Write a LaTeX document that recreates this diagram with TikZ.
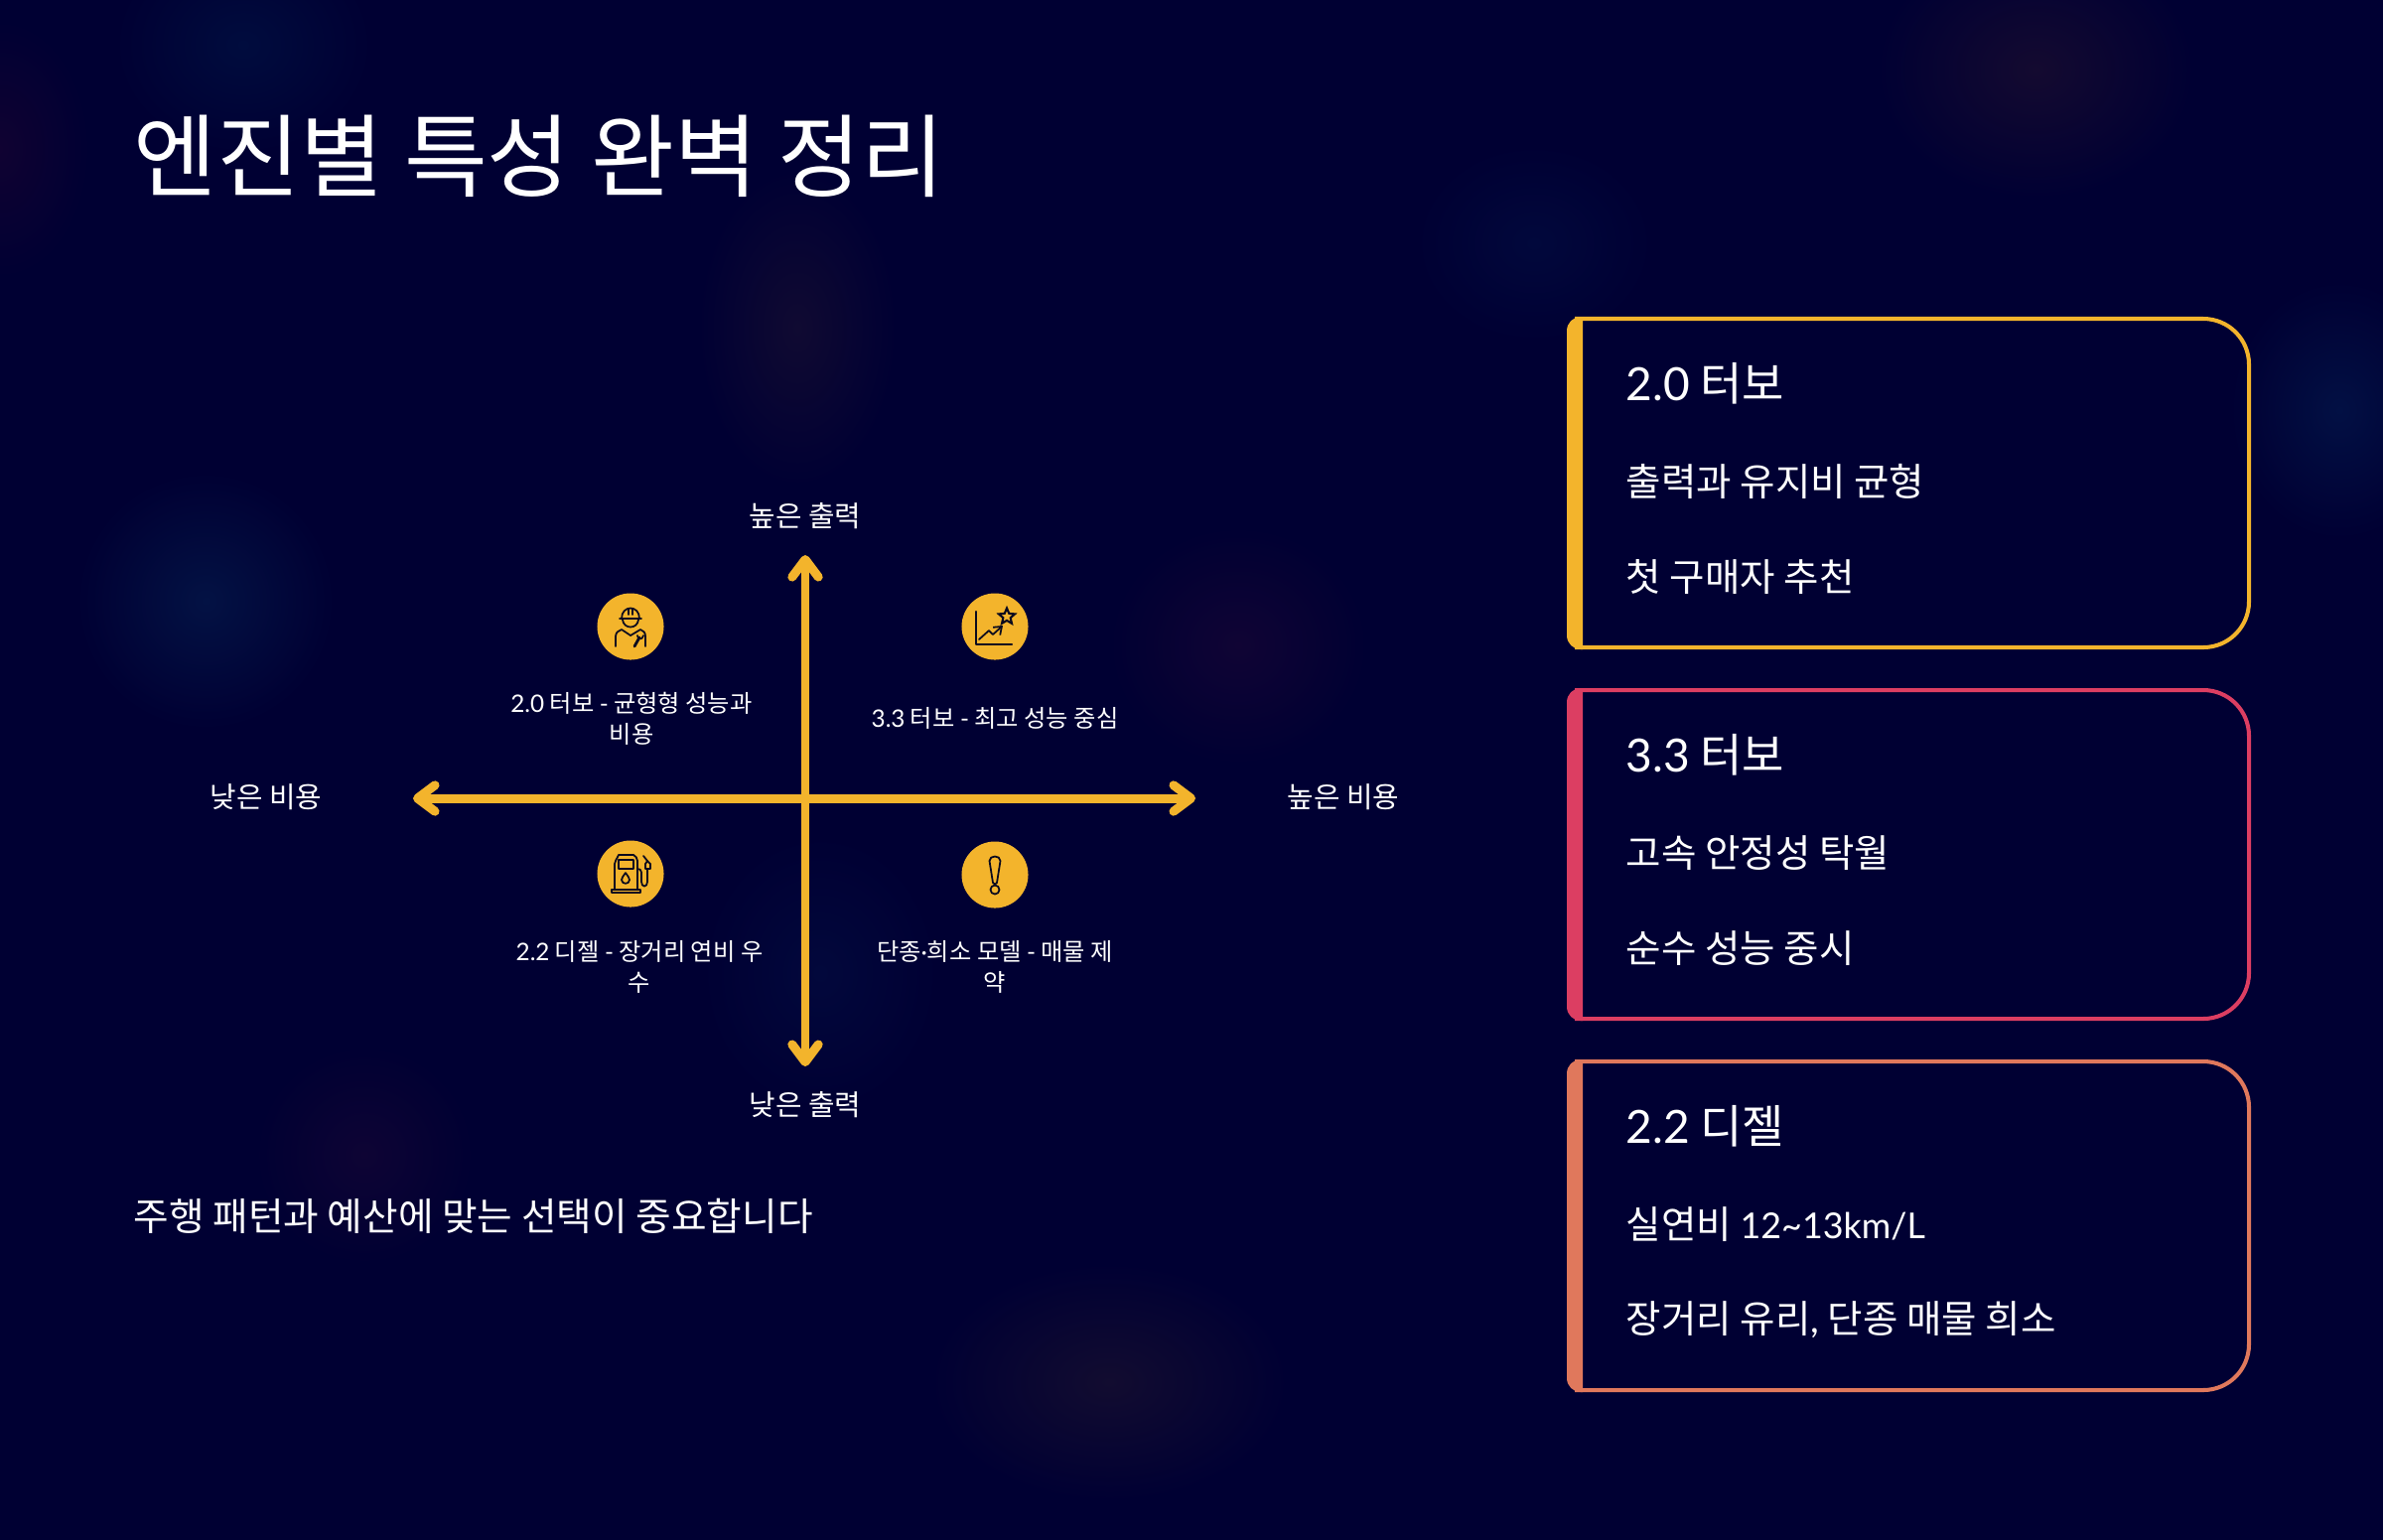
\documentclass[tikz,border=0pt]{standalone}
\usepackage{fontspec}
\usepackage{tikz}
\usetikzlibrary{arrows.meta, shapes.geometric}
\setmainfont{Noto Sans CJK KR}
\newfontfamily\latfont{Lato}
\newcommand{\lat}[1]{{\latfont #1}}
\definecolor{BgNavy}{RGB}{0,0,51}
\definecolor{AxisYellow}{RGB}{243,180,44}
\definecolor{CardRed}{RGB}{220,62,98}
\definecolor{CardCoral}{RGB}{224,120,92}
\definecolor{IconInk}{RGB}{10,10,30}
\tikzset{
  txt/.style={text=white, inner sep=0pt},
  axislabel/.style={txt, font=\fontsize{8.2}{10}\selectfont},
  quadlabel/.style={txt, align=center, font=\fontsize{6.9}{8.8}\selectfont},
  cardhead/.style={txt, anchor=west, font=\fontsize{13.1}{16}\selectfont},
  cardline/.style={txt, anchor=west, font=\fontsize{10.95}{13}\selectfont},
  iconcirc/.style={circle, fill=AxisYellow, minimum size=0.67cm, inner sep=0pt},
  iconline/.style={draw=IconInk, line width=0.5pt, line join=round, line cap=round},
  axisline/.style={draw=AxisYellow, line width=2.55pt,
    {Straight Barb[round,length=5pt,width=7.5pt]}-{Straight Barb[round,length=5pt,width=7.5pt]}}
}
\begin{document}
\begin{tikzpicture}[x=0.01cm, y=-0.01cm]
\useasboundingbox (0,0) rectangle (2400,1550);
\fill[BgNavy] (-5,-5) rectangle (2405,1555);

% Glows
\foreach \x/\y/\rx/\ry/\glow in {245/45/130/110/{0,12,62}, 0/150/90/130/{16,2,50},
    2050/70/160/130/{20,10,48}, 1545/245/120/100/{1,8,60}, 803/330/100/160/{16,10,50},
    207/605/130/130/{3,18,68}, 1247/650/130/120/{16,4,52}, 2356/413/110/130/{2,16,68},
    367/1163/110/110/{14,4,52}, 1117/1392/180/120/{18,12,48}, 826/980/120/140/{2,8,60}} {
  \definecolor{glowtmp}{RGB}{\glow}
  \shade[inner color=glowtmp, outer color=BgNavy] (\x,\y) ellipse [x radius=\rx, y radius=\ry];
}

% Title and footer
\node[txt, anchor=west, font=\fontsize{25.95}{30}\selectfont] (titleText) at (134,157) {엔진별 특성 완벽 정리};
\node[txt, anchor=west, font=\fontsize{11}{13}\selectfont] (footText) at (134,1225) {주행 패턴과 예산에 맞는 선택이 중요합니다};

% Axes
\coordinate (axisLeft) at (416,804);
\coordinate (axisRight) at (1204,804);
\coordinate (axisTop) at (811,559);
\coordinate (axisBottom) at (811,1074);
\draw[axisline] (axisLeft) -- (axisRight);
\draw[axisline] (axisTop) -- (axisBottom);

\node[axislabel] (labTop) at (811,520) {높은 출력};
\node[axislabel] (labBottom) at (811,1113) {낮은 출력};
\node[axislabel] (labLeft) at (268,803) {낮은 비용};
\node[axislabel] (labRight) at (1353,803) {높은 비용};

% Quadrants
\node[iconcirc] (iconWorker) at (635,631) {};
\node[iconcirc] (iconChart) at (1002,631) {};
\node[iconcirc] (iconPump) at (635,880) {};
\node[iconcirc] (iconWarn) at (1002,881) {};

\node[quadlabel] (quadA) at (636,724) {\lat{2.0} 터보 \lat{-} 균형형 성능과\\비용};
\node[quadlabel] (quadB) at (1002,723) {\lat{3.3} 터보 \lat{-} 최고 성능 중심};
\node[quadlabel] (quadC) at (644,974) {\lat{2.2} 디젤 \lat{-} 장거리 연비 우\\수};
\node[quadlabel] (quadD) at (1002,974) {단종\lat{·}희소 모델 \lat{-} 매물 제\\약};

% Worker icon
\begin{scope}[shift={(iconWorker.center)}]
  \draw[iconline] (-11,-8) -- (11,-8);
  \draw[iconline] (-9,-8) .. controls (-9,-22) and (9,-22) .. (9,-8);
  \draw[iconline] (-2,-18) -- (-2,-12) (2,-18) -- (2,-12);
  \draw[iconline] (-8,-7) .. controls (-7,3) and (7,3) .. (8,-7);
  \draw[iconline] (-15,20) -- (-15,10) .. controls (-15,6) and (-12,4) .. (-9,3) -- (0,9) -- (10,3) .. controls (13,4) and (15,6) .. (15,10) -- (15,20);
  \draw[iconline, line width=0.8pt] (4,20) -- (9,11);
  \draw[iconline] (7,9) .. controls (7,13) and (12,14) .. (13,9);
\end{scope}

% Chart icon
\begin{scope}[shift={(iconChart.center)}]
  \draw[iconline, line width=0.7pt] (-19,-15) -- (-19,18) -- (17,18);
  \draw[iconline, -{Straight Barb[length=2pt,width=3pt]}] (-16,13) -- (-6,4) -- (-2,8) -- (8,-1);
  \node[star, star points=5, star point ratio=2.2, draw=IconInk, line width=0.6pt, minimum size=0.17cm, inner sep=0pt] (iconStar) at (12,-10) {};
\end{scope}

% Pump icon
\begin{scope}[shift={(iconPump.center)}]
  \draw[iconline] (-16,16) -- (-16,-10) .. controls (-16,-13) and (-14,-14) .. (-12,-19) -- (3,-19) .. controls (5,-18) and (7,-16) .. (7,-13) -- (7,16);
  \draw[iconline] (-12,-14) rectangle (3,-5);
  \draw[iconline] (-19,16) rectangle (10,19);
  \draw[iconline] (-5,-1) .. controls (-7,2) and (-9,4) .. (-9,6) .. controls (-9,11) and (-1,11) .. (-1,6) .. controls (-1,4) and (-3,2) .. (-5,-1);
  \draw[iconline] (7,-5) .. controls (12,-5) and (11,-1) .. (11,8) .. controls (11,14) and (17,14) .. (17,8) -- (17,-5);
  \draw[iconline] (15,-5) -- (15,-10) -- (17,-13) -- (20,-10) -- (20,-5) -- cycle;
  \draw[iconline] (13,-18) -- (17,-13);
\end{scope}

% Warning icon
\begin{scope}[shift={(iconWarn.center)}]
  \draw[iconline] (-5.5,-14) .. controls (-5.5,-20) and (5.5,-20) .. (5.5,-14) -- (2,8) .. controls (1,10) and (-1,10) .. (-2,8) -- cycle;
  \draw[iconline] (0,15) circle (4.5);
\end{scope}

% Cards
\foreach \top/\colr/\head/\lineA/\lineB/\nm in {
    319/AxisYellow/{\lat{2.0} 터보}/{출력과 유지비 균형}/{첫 구매자 추천}/A,
    693/CardRed/{\lat{3.3} 터보}/{고속 안정성 탁월}/{순수 성능 중시}/B,
    1067/CardCoral/{\lat{2.2} 디젤}/{실연비 {\latfont\fontsize{10.2}{13}\selectfont 12\textasciitilde 13km/L}}/{장거리 유리\lat{,} 단종 매물 희소}/C} {
  \draw[\colr, line width=1.15pt] (1586,\top+2) [rounded corners=0.46cm] -- (2265,\top+2) -- (2265,\top+333) [rounded corners=0pt] -- (1586,\top+333);
  \fill[\colr] (1594,\top) [rounded corners=0.14cm] -- (1578,\top) -- (1578,\top+335) [rounded corners=0pt] -- (1594,\top+335) -- cycle;
  \node[cardhead] (cardHead\nm) at (1637,\top+67) {\head};
  \node[cardline] (cardOne\nm) at (1637,\top+166) {\lineA};
  \node[cardline] (cardTwo\nm) at (1637,\top+262) {\lineB};
}
\end{tikzpicture}
\end{document}
